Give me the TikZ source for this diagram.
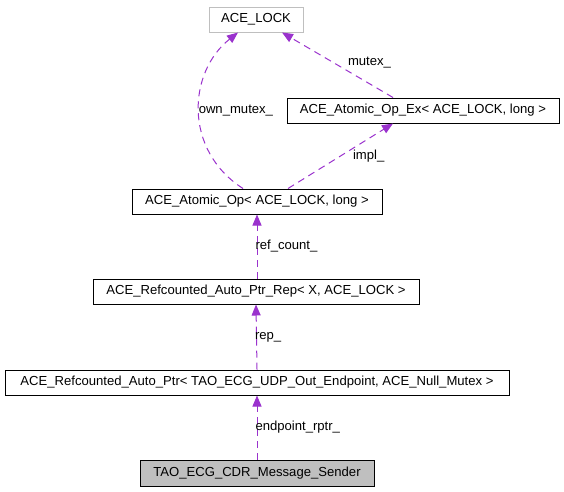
\documentclass[tikz,border=0pt]{standalone}
\usepackage{fontspec}
\setmainfont{Liberation Sans}
\usetikzlibrary{arrows.meta}
\definecolor{edgepurple}{HTML}{9A32CD}
\definecolor{boxgray}{HTML}{BFBFBF}
\begin{document}
\begin{tikzpicture}[x=1pt,y=-1pt,
  cls/.style={draw=black,line width=1pt,inner sep=0pt,minimum height=25pt,font=\fontsize{13.1}{15}\selectfont},
  edge/.style={draw=edgepurple,line width=1pt,dash pattern=on 7pt off 5pt,-{Triangle[length=11pt,width=9pt,fill=edgepurple]}},
  lbl/.style={inner sep=0pt,anchor=west,font=\fontsize{13.1}{15}\selectfont}]
\useasboundingbox (0,0) rectangle (564,491);
\node[cls,draw=boxgray,minimum width=94pt] (lock) at (256,19.5) {ACE\_LOCK};
\node[cls,minimum width=272pt] (aopex) at (423,110.5) {ACE\_Atomic\_Op\_Ex< ACE\_LOCK, long >};
\node[cls,minimum width=250pt] (aop) at (257,201.5) {ACE\_Atomic\_Op< ACE\_LOCK, long >};
\node[cls,minimum width=326pt] (rep) at (256,291.5) {ACE\_Refcounted\_Auto\_Ptr\_Rep< X, ACE\_LOCK >};
\node[cls,minimum width=504pt] (aptr) at (257,382.5) {ACE\_Refcounted\_Auto\_Ptr< TAO\_ECG\_UDP\_Out\_Endpoint, ACE\_Null\_Mutex >};
\node[cls,fill=boxgray,minimum width=234pt,minimum height=26pt] (sender) at (257,473) {TAO\_ECG\_CDR\_Message\_Sender};
\draw[edge] (sender.north) -- node[lbl,xshift=-2pt] {endpoint\_rptr\_} (aptr.south);
\draw[edge] (aptr.north) -- node[lbl,xshift=-2pt] {rep\_} (rep.south);
\draw[edge] (rep.north -| aop.north) -- node[lbl,xshift=-2pt] {ref\_count\_} (aop.south);
\draw[edge] ([xshift=-14pt]aop.north) .. controls (183,150) and (188,72) .. node[lbl,xshift=-1pt] {own\_mutex\_} ([xshift=-18pt]lock.south);
\draw[edge] ([xshift=31pt]aop.north) -- node[lbl,xshift=12pt] {impl\_} ([xshift=-30pt]aopex.south);
\draw[edge] ([xshift=-30pt]aopex.north) -- node[lbl,xshift=10pt,yshift=2pt] {mutex\_} ([xshift=26pt]lock.south);
\end{tikzpicture}
\end{document}
